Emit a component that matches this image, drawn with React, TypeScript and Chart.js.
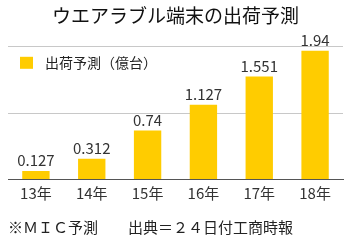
import React, { useEffect, useRef } from "react";
import { Chart, registerables } from "chart.js";

Chart.register(...registerables);

const categories = ["13年", "14年", "15年", "16年", "17年", "18年"];
const shipments = [0.127, 0.312, 0.74, 1.127, 1.551, 1.94];
const valueLabels = ["0.127", "0.312", "0.74", "1.127", "1.551", "1.94"];
const seriesName = "出荷予測（億台）";
const titleText = "ウエアラブル端末の出荷予測";
const footnote = "※ＭＩＣ予測　　出典＝２４日付工商時報";

const FONT = "'Noto Sans CJK JP', 'Noto Sans', sans-serif";
const BAR_COLOR = "#FFCC00";

const valueLabelPlugin = {
  id: "valueLabels",
  afterDatasetsDraw(chart: any) {
    const ctx = chart.ctx;
    const meta = chart.getDatasetMeta(0);
    ctx.save();
    ctx.font = `15px ${FONT}`;
    ctx.fillStyle = "#333";
    ctx.textAlign = "center";
    ctx.textBaseline = "bottom";
    meta.data.forEach((bar: any, i: number) => {
      ctx.fillText(valueLabels[i], bar.x, bar.y - 3);
    });
    ctx.restore();
  },
};

const innerLegendPlugin = {
  id: "innerLegend",
  afterDraw(chart: any) {
    const ctx = chart.ctx;
    const area = chart.chartArea;
    const ds = chart.data.datasets[0];
    const bx = area.left + 12;
    const by = area.top + 10;
    ctx.save();
    ctx.fillStyle = ds.backgroundColor;
    ctx.fillRect(bx, by, 13, 12);
    ctx.font = `14px ${FONT}`;
    ctx.fillStyle = "#222";
    ctx.textAlign = "left";
    ctx.textBaseline = "middle";
    ctx.fillText(ds.label, bx + 25, by + 6);
    ctx.restore();
  },
};

export default function App() {
  const ref = useRef<HTMLCanvasElement>(null);
  useEffect(() => {
    if (!ref.current) return;
    const chart = new Chart(ref.current, {
      type: "bar",
      data: {
        labels: categories,
        datasets: [
          {
            label: seriesName,
            data: shipments,
            backgroundColor: BAR_COLOR,
            borderWidth: 0,
            categoryPercentage: 1,
            barPercentage: 0.49,
          },
        ],
      },
      options: {
        animation: false,
        responsive: false,
        maintainAspectRatio: false,
        layout: { padding: { left: 8, right: 10, top: 0, bottom: 0 } },
        plugins: {
          title: {
            display: true,
            text: titleText,
            color: "#111",
            font: { family: FONT, size: 19, weight: "normal", lineHeight: 1.2 },
            padding: { top: 4, bottom: 20 },
          },
          subtitle: {
            display: true,
            text: footnote,
            position: "bottom",
            align: "start",
            color: "#222",
            font: { family: FONT, size: 15, weight: "normal", lineHeight: 1.2 },
            padding: { top: 10.5, bottom: 4 },
          },
          legend: { display: false },
          tooltip: { enabled: false },
        },
        scales: {
          x: {
            offset: true,
            grid: { display: false, drawTicks: false },
            border: { display: true, color: "#555", width: 1 },
            ticks: {
              color: "#333",
              font: { family: FONT, size: 15 },
              padding: 5,
              maxRotation: 0,
            },
          },
          y: {
            min: 0,
            max: 2,
            ticks: { display: false, stepSize: 1 },
            grid: { color: "#c8c8c8", drawTicks: false },
            border: { display: false },
          },
        },
      },
      plugins: [valueLabelPlugin, innerLegendPlugin],
    });
    return () => chart.destroy();
  }, []);
  return (
    <div style={{ position: "absolute", left: 0, top: 0, width: 353, height: 240, background: "#fff" }}>
      <canvas ref={ref} width={353} height={240} style={{ display: "block", width: 353, height: 240 }} />
    </div>
  );
}
